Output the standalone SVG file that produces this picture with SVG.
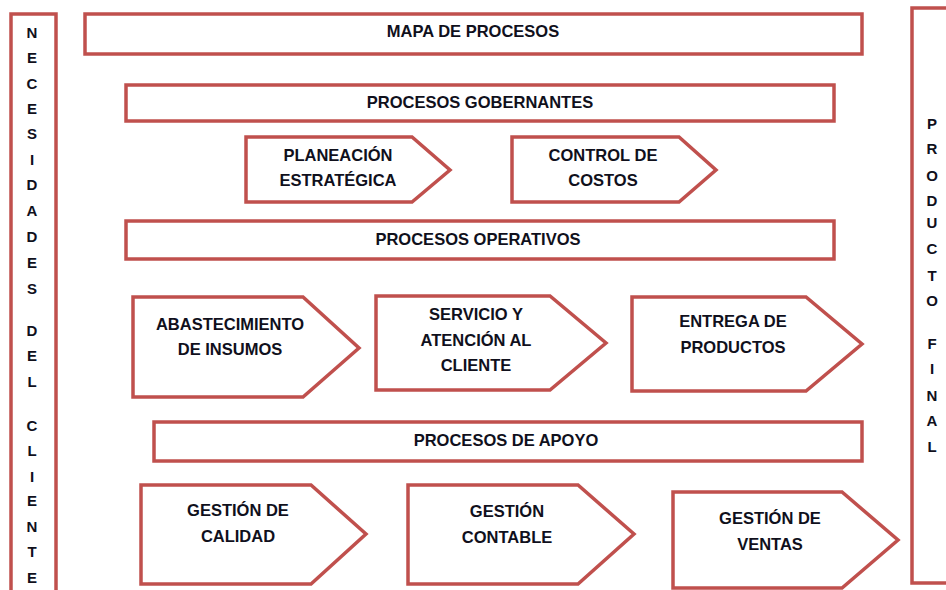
<svg xmlns="http://www.w3.org/2000/svg" width="946" height="590" viewBox="0 0 946 590">
<style>
.b{fill:#fff;stroke:#C0504D;stroke-width:3.5}
.t{font-family:"Liberation Sans",Arial,sans-serif;font-weight:bold;font-size:16.5px;fill:#10101c;text-anchor:middle}
.v{font-family:"Liberation Sans",Arial,sans-serif;font-weight:bold;font-size:15px;fill:#10101c;text-anchor:middle}
</style>
<rect width="946" height="590" fill="#fff"/>
<g id="necesidades">
<rect class="b" x="11" y="14" width="45" height="590"/>
<text class="v" x="32"><tspan x="32" y="38">N</tspan><tspan x="32" y="63">E</tspan><tspan x="32" y="89">C</tspan><tspan x="32" y="114">E</tspan><tspan x="32" y="139">S</tspan><tspan x="32" y="165">I</tspan><tspan x="32" y="190">D</tspan><tspan x="32" y="216">A</tspan><tspan x="32" y="242">D</tspan><tspan x="32" y="268">E</tspan><tspan x="32" y="294">S</tspan><tspan x="32" y="336">D</tspan><tspan x="32" y="361">E</tspan><tspan x="32" y="387">L</tspan><tspan x="32" y="431">C</tspan><tspan x="32" y="456">L</tspan><tspan x="32" y="482">I</tspan><tspan x="32" y="506">E</tspan><tspan x="32" y="532">N</tspan><tspan x="32" y="557">T</tspan><tspan x="32" y="583">E</tspan></text>
</g>
<g id="producto-final">
<rect class="b" x="912" y="8" width="60" height="575"/>
<text class="v"><tspan x="932" y="129">P</tspan><tspan x="932" y="154">R</tspan><tspan x="932" y="181">O</tspan><tspan x="932" y="206">D</tspan><tspan x="932" y="228">U</tspan><tspan x="932" y="254">C</tspan><tspan x="932" y="281">T</tspan><tspan x="932" y="306">O</tspan><tspan x="932" y="349">F</tspan><tspan x="932" y="374">I</tspan><tspan x="932" y="401">N</tspan><tspan x="932" y="426">A</tspan><tspan x="932" y="452">L</tspan></text>
</g>
<g id="mapa">
<rect class="b" x="85" y="14" width="777" height="40"/>
<text class="t" x="473" y="37">MAPA DE PROCESOS</text>
</g>
<g id="gobernantes">
<rect class="b" x="126" y="85" width="708" height="36"/>
<text class="t" x="480" y="108">PROCESOS GOBERNANTES</text>
</g>
<g id="planeacion">
<polygon class="b" points="246,137 412,137 450,170 412,202 246,202"/>
<text class="t"><tspan x="338" y="161">PLANEACIÓN</tspan><tspan x="338" y="186">ESTRATÉGICA</tspan></text>
</g>
<g id="control">
<polygon class="b" points="512,137 679,137 716,170 679,202 512,202"/>
<text class="t"><tspan x="603" y="161">CONTROL DE</tspan><tspan x="603" y="186">COSTOS</tspan></text>
</g>
<g id="operativos">
<rect class="b" x="126" y="221" width="708" height="38"/>
<text class="t" x="478" y="245">PROCESOS OPERATIVOS</text>
</g>
<g id="abastecimiento">
<polygon class="b" points="133,297 303,297 359,348 303,397 133,397"/>
<text class="t"><tspan x="230" y="330">ABASTECIMIENTO</tspan><tspan x="230" y="355">DE INSUMOS</tspan></text>
</g>
<g id="servicio">
<polygon class="b" points="376,296 550,296 606,343 550,390 376,390"/>
<text class="t"><tspan x="476" y="320">SERVICIO Y</tspan><tspan x="476" y="346">ATENCIÓN AL</tspan><tspan x="476" y="371">CLIENTE</tspan></text>
</g>
<g id="entrega">
<polygon class="b" points="632,297 806,297 862,344 806,391 632,391"/>
<text class="t"><tspan x="733" y="327">ENTREGA DE</tspan><tspan x="733" y="353">PRODUCTOS</tspan></text>
</g>
<g id="apoyo">
<rect class="b" x="154" y="422" width="708" height="39"/>
<text class="t" x="506" y="446">PROCESOS DE APOYO</text>
</g>
<g id="calidad">
<polygon class="b" points="141,485 311,485 366,534 311,584 141,584"/>
<text class="t"><tspan x="238" y="516">GESTIÓN DE</tspan><tspan x="238" y="542">CALIDAD</tspan></text>
</g>
<g id="contable">
<polygon class="b" points="408,485 578,485 634,534 578,584 408,584"/>
<text class="t"><tspan x="507" y="517">GESTIÓN</tspan><tspan x="507" y="543">CONTABLE</tspan></text>
</g>
<g id="ventas">
<polygon class="b" points="673,492 842,492 898,540 842,588 673,588"/>
<text class="t"><tspan x="770" y="524">GESTIÓN DE</tspan><tspan x="770" y="550">VENTAS</tspan></text>
</g>
<g id="connectors"></g>
</svg>
